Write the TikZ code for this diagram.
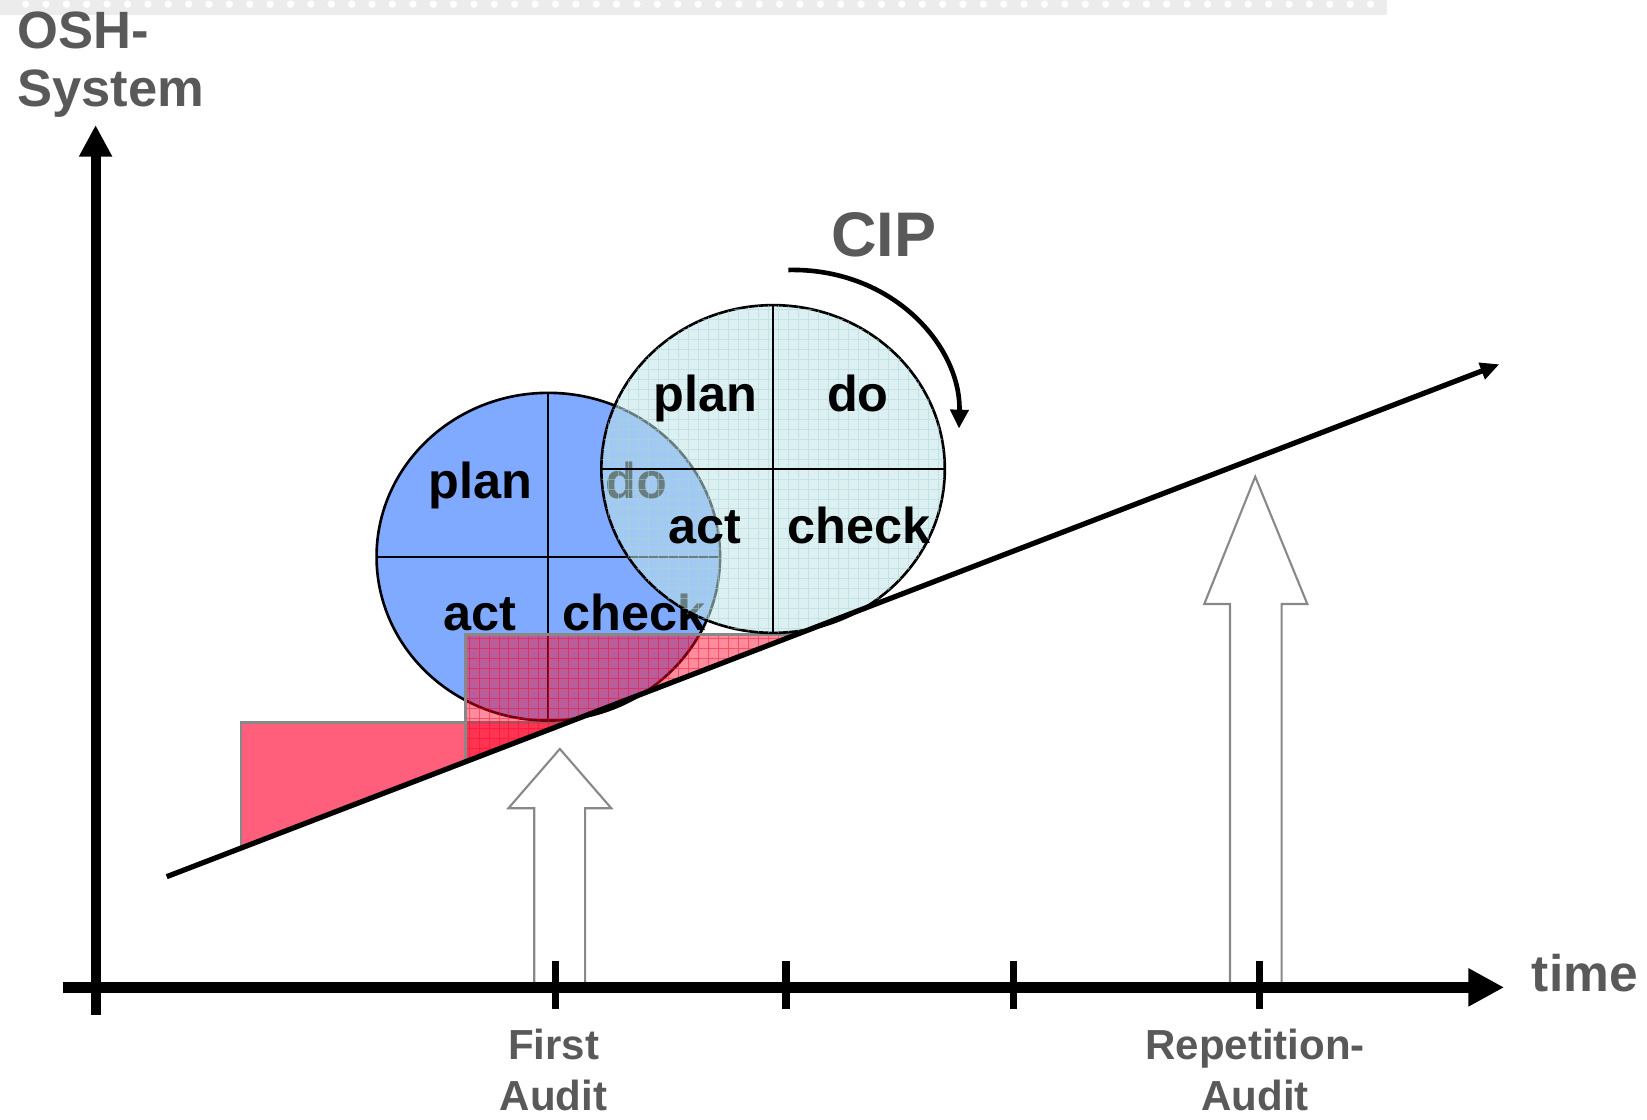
\documentclass[tikz,border=0pt]{standalone}
\usepackage{fontspec}
\setmainfont{Liberation Sans}
\usepackage{xcolor}
\usepackage{tikz}
\usetikzlibrary{arrows.meta}
\usetikzlibrary{shapes.geometric}
\usetikzlibrary{positioning}

\definecolor{txtgray}{RGB}{89,89,89}
\definecolor{bandgray}{RGB}{236,236,236}
\definecolor{edgegray}{RGB}{136,136,136}
\definecolor{pdcablue}{RGB}{128,170,255}
\definecolor{pdcacyan}{RGB}{191,228,231}
\definecolor{gridcyan}{RGB}{170,214,220}
\definecolor{steprose}{RGB}{255,95,122}
\definecolor{stepred}{RGB}{255,0,35}

\tikzset{
  word/.style={font=\bfseries\fontsize{24}{26}\selectfont,inner sep=0pt},
  axistext/.style={text=txtgray,inner sep=0pt,align=left,
    font=\bfseries\fontsize{25}{27.5}\selectfont},
  audittext/.style={text=txtgray,inner sep=0pt,align=center,anchor=base,
    font=\bfseries\fontsize{20}{24}\selectfont},
  pdca/.style={ellipse,draw,line width=1.25pt,minimum width=163.5pt,
    minimum height=156pt,inner sep=0pt,outer sep=0pt},
  quarter/.style={line width=1pt},
  blockarrow/.style={draw=edgegray,fill=white,line width=1pt},
  axis/.style={line width=#1},
  tick/.style={line width=3.65pt},
  rise/.style={line width=2.5pt,-{Triangle[length=9pt,width=8pt]}},
}

\begin{document}
\begin{tikzpicture}[x=0.5pt,y=-0.5pt]
\useasboundingbox (0,0) rectangle (1568,1066);

% dotted band at the top
\fill[bandgray] (0,0) rectangle (1320,14.3);
\foreach \i in {0,...,66}
  \fill[white] (24.4+19.4*\i,4) circle [radius=1.75pt];

% named points
\coordinate (riseL) at (158.7,834.6);
\coordinate (riseR) at (1427.4,346.8);
\coordinate (yfoot) at (91,966);
\coordinate (ytip) at (91,119);
\coordinate (xfoot) at (60,940);
\coordinate (xtip) at (1432,940);
\coordinate (turnA) at (750.5,257);
\coordinate (turnB) at (913,408);

% audit arrows
\draw[blockarrow] (508.6,936) -- (508.6,769.5) -- (484,769.5) -- (533,713)
  -- (582,769.5) -- (557,769.5) -- (557,936);
\draw[blockarrow] (1171,936) -- (1171,575) -- (1146.5,575) -- (1195,453.8)
  -- (1244.6,575) -- (1220.2,575) -- (1220.2,936);

% first step
\fill[steprose] (229.5,688) -- (540,688) -- (229.5,807.4) -- cycle;
\draw[edgegray,line width=1.2pt] (229.5,807.4) -- (229.5,688) -- (540,688);

% first PDCA circle
\node[pdca,fill=pdcablue] (blue) at (522,530) {};
\draw[quarter] (blue.north) -- (blue.south);
\draw[quarter] (blue.west) -- (blue.east);
\node[word,anchor=base east] (bplan) at ([shift={(-15,-55)}]blue.center) {plan};
\node[word,anchor=base west] (bdo) at ([shift={(54,-55)}]blue.center) {do};
\node[word,anchor=base east] (bact) at ([shift={(-30,70)}]blue.center) {act};
\node[word,anchor=base west] (bcheck) at ([shift={(13,70)}]blue.center) {check};

% second step
\begin{scope}
  \clip (443,604) -- (758.4,604) -- (443,725.3) -- cycle;
  \fill[stepred,fill opacity=0.45] (440,600) rectangle (760,730);
  \draw[stepred,opacity=0.45,line width=0.4pt,step=4.75pt] (440,600) grid (760,730);
\end{scope}
\draw[edgegray,line width=1.2pt] (443,725.3) -- (443,604) -- (758.4,604);

% second PDCA circle
\node[pdca,fill=pdcacyan,fill opacity=0.55] (cyan) at (736,446.5) {};
\begin{scope}
  \clip (cyan.center) ellipse [x radius=81.75pt,y radius=78pt];
  \draw[gridcyan,opacity=0.5,line width=0.4pt,step=4.75pt] (570,285) grid (905,610);
\end{scope}
\draw[quarter] (cyan.north) -- (cyan.south);
\draw[quarter] (cyan.west) -- (cyan.east);
\node[word,anchor=base east] (cplan) at ([shift={(-15,-54.5)}]cyan.center) {plan};
\node[word,anchor=base west] (cdo) at ([shift={(51,-54.5)}]cyan.center) {do};
\node[word,anchor=base east] (cact) at ([shift={(-30,70.5)}]cyan.center) {act};
\node[word,anchor=base west] (ccheck) at ([shift={(13,70.5)}]cyan.center) {check};

% improvement line and cycle arrow
\draw[rise] (riseL) -- (riseR);
\draw[line width=2.2pt,-{Triangle[length=9pt,width=8.5pt]}]
  (turnA) .. controls (850,255) and (915,330) .. (turnB);
\node[text=txtgray,inner sep=0pt,anchor=base west,
  font=\bfseries\fontsize{30}{32}\selectfont] (cip) at (791,244) {CIP};

% axes
\draw[axis=4.75pt,-{Triangle[length=15pt,width=14.75pt]}] (yfoot) -- (ytip);
\draw[axis=5.5pt,-{Triangle[length=17pt,width=17pt]}] (xfoot) -- (xtip);
\foreach \tx in {529,748,965,1199}
  \draw[tick] (\tx,915) -- (\tx,961);

% labels
\node[axistext,anchor=base west] (osh) at (16,101.6) {OSH-\\System};
\node[axistext,anchor=base west,font=\bfseries\fontsize{24.5}{27}\selectfont] (time) at (1458,944) {time};
\node[audittext] (first) at (527,1057) {First\\Audit};
\node[audittext] (repeat) at (1195,1057) {Repetition-\\Audit};
\end{tikzpicture}
\end{document}
